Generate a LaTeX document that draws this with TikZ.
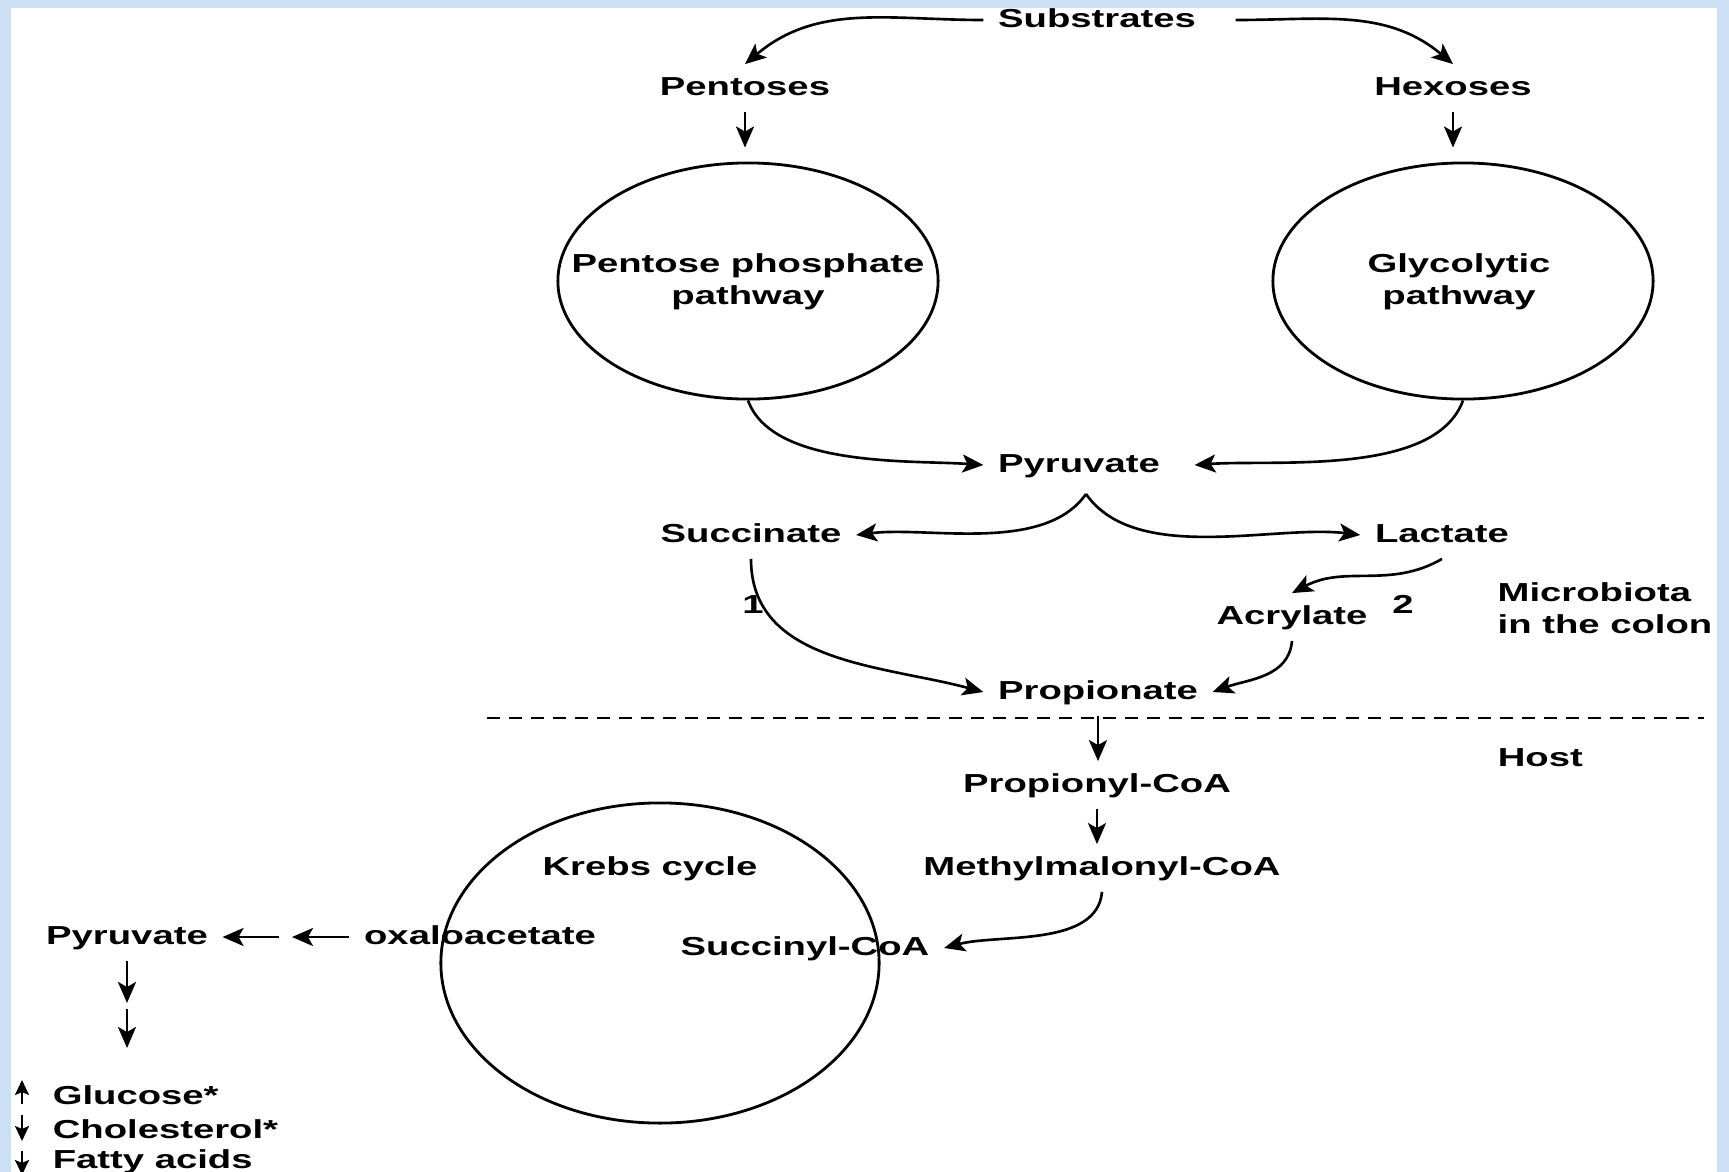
\documentclass[tikz,border=0pt]{standalone}
\usepackage{fontspec}
\newfontfamily\figfont[FakeStretch=1.47]{Liberation Sans}
\usetikzlibrary{arrows.meta,shapes.geometric}
\definecolor{bgblue}{RGB}{204,224,245}
\begin{document}
\begin{tikzpicture}[x=0.01cm,y=0.01cm,
  lbl/.style={font=\figfont\bfseries\fontsize{7.4}{8.8}\selectfont, inner xsep=4pt, inner ysep=3pt, text height=5.6pt, text depth=1.6pt},
  ml/.style={font=\figfont\bfseries\fontsize{7.4}{9.1}\selectfont, inner sep=0pt},
  cyc/.style={ellipse, draw, line width=0.8pt, inner sep=0pt},
  arr/.style={-{Stealth[length=2.1mm,width=1.8mm,inset=0.5mm]}, line width=0.75pt},
  sarr/.style={-{Stealth[length=1.5mm,width=1.4mm,inset=0.3mm]}, line width=0.65pt}]
\useasboundingbox (0,0) rectangle (1729,-1172);
\clip (0,0) rectangle (1729,-1172);
\fill[bgblue] (0,0) rectangle (1729,-1172);
\fill[white] (11,-8) rectangle (1717,-1172);

% circles
\node[cyc, minimum width=3.8cm, minimum height=2.36cm] (ppp) at (748,-281) {};
\node[cyc, minimum width=3.8cm, minimum height=2.36cm] (gly) at (1463,-281) {};
\node[cyc, minimum width=4.38cm, minimum height=3.2cm] (krebs) at (660,-963) {};
\node[ml, align=center] (ppptxt) at (748,-282) {Pentose phosphate\\pathway};
\node[ml, align=center] (glytxt) at (1459,-282) {Glycolytic\\pathway};

% labels
\node[lbl] (sub) at (1097,-20) {Substrates};
\node[lbl] (pent) at (745,-88) {Pentoses};
\node[lbl] (hex) at (1453,-88) {Hexoses};
\node[lbl] (pyr) at (1079,-465) {Pyruvate};
\node[lbl] (succ) at (751,-535) {Succinate};
\node[lbl] (lac) at (1442,-535) {Lactate};
\node[lbl] (acr) at (1292,-617) {Acrylate};
\node[lbl] (prop) at (1098,-692) {Propionate};
\node[lbl] (n1) at (753,-606) {1};
\node[lbl] (n2) at (1403,-606) {2};
\node[ml, anchor=west, align=left] (micro) at (1497,-608) {Microbiota\\in the colon};
\node[lbl, anchor=west] (host) at (1483,-759) {Host};
\node[lbl] (propcoa) at (1097,-785) {Propionyl-CoA};
\node[lbl] (mmcoa) at (1102,-868) {Methylmalonyl-CoA};
\node[lbl] (krebstxt) at (650,-868) {Krebs cycle};
\node[lbl] (succoa) at (805,-948) {Succinyl-CoA};
\node[lbl] (oxa) at (480,-937) {oxaloacetate};
\node[lbl] (pyr2) at (127,-937) {Pyruvate};
\node[lbl, anchor=west] (glu) at (38,-1097) {Glucose*};
\node[lbl, anchor=west] (chol) at (38,-1131) {Cholesterol*};
\node[lbl, anchor=west] (fat) at (38,-1161) {Fatty acids};

% coordinates
\coordinate (dl) at (487,-718);
\coordinate (dr) at (1704,-718);
\coordinate (ma) at (292,-937);
\coordinate (mb) at (279,-937);
\coordinate (d1) at (127,-1003);
\coordinate (d2) at (127,-1009);
\coordinate (d3) at (127,-1048);
\coordinate (g1) at (22,-1104);
\coordinate (g2) at (22,-1080);
\coordinate (c1) at (22,-1115);
\coordinate (c2) at (22,-1141);
\coordinate (f1) at (22,-1151);
\coordinate (f2) at (22,-1175);
\coordinate (fork) at (1086,-494);

% connectors
\draw[arr] (sub.west) to[out=180,in=40] (pent.north);
\draw[arr] ([xshift=0.25cm]sub.east) to[out=0,in=140] (hex.north);
\draw[arr] (pent.south) -- ([yshift=0.14cm]pent.south |- ppp.north);
\draw[arr] (hex.south) -- ([yshift=0.14cm]hex.south |- gly.north);
\draw[arr] (ppp.south) to[out=-70,in=176,looseness=0.75] (pyr.west);
\draw[arr] (gly.south) to[out=-110,in=4,looseness=0.75] ([xshift=0.2cm]pyr.east);
\draw[arr] (fork) to[out=-125,in=7,looseness=0.8] (succ.east);
\draw[arr] (fork) to[out=-55,in=173,looseness=0.8] (lac.west);
\draw[arr] (succ.south) to[out=-90,in=165] (prop.west);
\draw[arr] (lac.south) to[out=-150,in=28] (acr.north);
\draw[arr] (acr.south) to[out=-95,in=20] (prop.east);
\draw[line width=0.7pt, dash pattern=on 1.3mm off 0.9mm] (dl) -- (dr);
\draw[arr] (prop.south) -- (prop.south |- propcoa.north);
\draw[arr] (propcoa.south) -- (propcoa.south |- mmcoa.north);
\draw[arr] (mmcoa.south) to[out=-95,in=15,looseness=0.85] (succoa.east);
\draw[arr] (oxa.west) -- (ma);
\draw[arr] (mb) -- (pyr2.east);
\draw[arr] (pyr2.south) -- (d1);
\draw[arr] (d2) -- (d3);
\draw[sarr] (g1) -- (g2);
\draw[sarr] (c1) -- (c2);
\draw[sarr] (f1) -- (f2);
\end{tikzpicture}
\end{document}
